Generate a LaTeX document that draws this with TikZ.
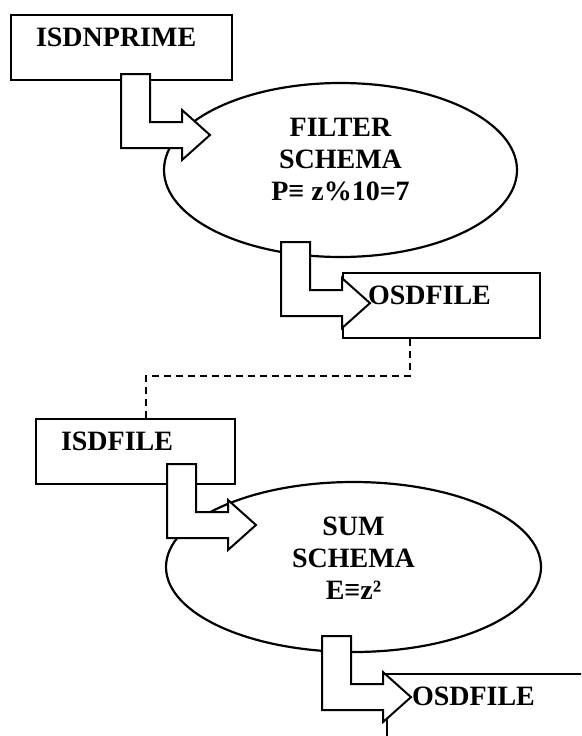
\documentclass[tikz,border=0pt]{standalone}
\usepackage{fontspec}
\setmainfont{Liberation Serif}
\usetikzlibrary{shapes.geometric}

\tikzset{
  lbl/.style={font=\bfseries\fontsize{28}{32}\selectfont},
  filebox/.style={lbl, draw, rectangle, fill=white, line width=2pt,
    anchor=north west, inner xsep=25pt, inner ysep=0pt,
    text height=31.5pt, text depth=33.5pt, align=left},
  schema/.style={draw, ellipse, line width=2.2pt, inner sep=0pt},
  schematext/.style={lbl, align=center},
  bendarrow/.pic={
    \draw[line width=2pt, fill=white, line join=miter]
      (0,0) -- ++(29,0) -- ++(0,48) -- ++(32,0) -- ++(0,-12)
      -- ++(28,25) -- ++(-28,25) -- ++(0,-12) -- ++(-61,0) -- cycle;
  }
}

\begin{document}
\begin{tikzpicture}[x=1pt,y=-1pt]
  \useasboundingbox (0,0) rectangle (581,736);
  \clip (0,0) rectangle (581,736);

  % files
  \node[filebox, text width=171pt] (isdnprime) at (10,14) {ISDNPRIME};
  \node[filebox, text width=147pt] (osdfileA) at (342,272) {OSDFILE};
  \node[filebox, text width=149pt] (isdfile) at (35,418) {ISDFILE};
  \node[filebox, text width=300pt] (osdfileB) at (386,673) {OSDFILE};

  % schemas
  \node[schema, minimum width=353pt, minimum height=174pt] (filter) at (340.5,170) {};
  \node[schematext] (filtertext) at ([yshift=10pt]filter.center)
    {FILTER\\SCHEMA\\P≡ z\%10=7};
  \node[schema, minimum width=375pt, minimum height=170pt] (sum) at (353.5,567) {};
  \node[schematext] (sumtext) at ([yshift=9pt]sum.center)
    {SUM\\SCHEMA\\E≡z²};

  % flow
  \pic at ([xshift=111pt,yshift=7pt]isdnprime.south west) {bendarrow};
  \pic at ([xshift=-59.5pt,yshift=16pt]filter.south) {bendarrow};
  \pic at ([xshift=132pt,yshift=21pt]isdfile.south west) {bendarrow};
  \pic at ([xshift=-31.5pt,yshift=17pt]sum.south) {bendarrow};

  \draw[line width=2pt, dash pattern=on 7pt off 5pt]
    ([xshift=-31.5pt]osdfileA.south) -- ++(0,37) -| ([xshift=10.5pt]isdfile.north);
\end{tikzpicture}
\end{document}
